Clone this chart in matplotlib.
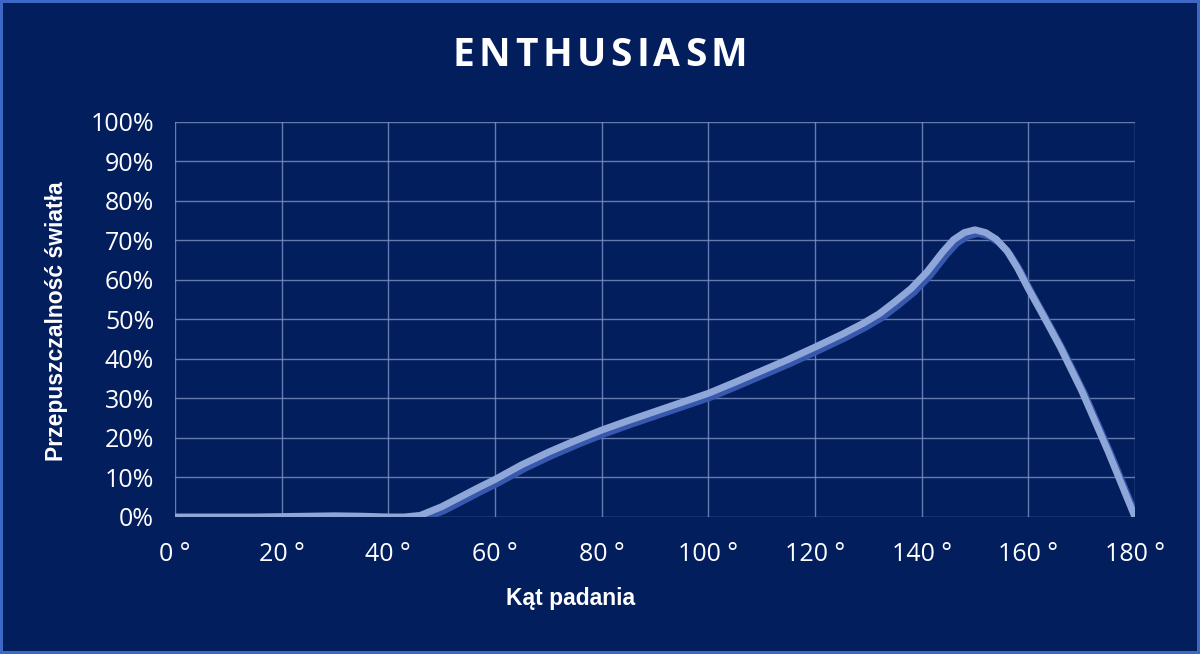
import matplotlib.pyplot as plt
import matplotlib.patheffects as pe
from matplotlib.ticker import PercentFormatter

# kat padania [deg] i przepuszczalnosc [0-1]
katy = [0, 5, 10, 15, 20, 25, 30, 35, 40, 43, 46, 50, 54, 57, 60, 65, 70, 75,
        80, 85, 90, 95, 100, 105, 110, 115, 120, 125, 129, 132, 135, 138,
        141, 144, 146, 148, 150, 152, 154, 156, 158, 160, 163, 166, 170, 175,
        180]
przep = [0.0, 0.0, 0.0, 0.0, 0.001, 0.002, 0.003, 0.002, 0.0, 0.0, 0.004,
         0.026, 0.054, 0.075, 0.095, 0.132, 0.164, 0.193, 0.22, 0.244, 0.267,
         0.29, 0.313, 0.341, 0.37, 0.399, 0.43, 0.462, 0.49, 0.514, 0.545,
         0.578, 0.62, 0.672, 0.702, 0.72, 0.727, 0.72, 0.703, 0.674, 0.63,
         0.578, 0.505, 0.43, 0.32, 0.165, 0.0]
x_ticki = list(range(0, 181, 20))
x_etykiety = [f'{k} °' for k in x_ticki]
y_ticki = [i / 10 for i in range(11)]
tytul = 'ENTHUSIASM'

tlo = '#021e5d'
fig = plt.figure(figsize=(12, 6.54), dpi=100, facecolor=tlo,
                 edgecolor='#3d68c6', linewidth=3)
ax = fig.add_axes([0.1458, 0.2095, 0.8, 0.604])
ax.set_facecolor(tlo)

ax.plot(katy, przep, color='#8ea7d8', lw=5, solid_capstyle='round',
        solid_joinstyle='round',
        path_effects=[pe.SimpleLineShadow(offset=(2.2, -2.6), shadow_color='#3758ac',
                                          alpha=1, rho=1),
                      pe.Normal()], zorder=3)

ax.set_xlim(0, 180)
ax.set_ylim(0, 1)
ax.set_xticks(x_ticki)
ax.set_xticklabels(x_etykiety)
ax.set_yticks(y_ticki)
ax.yaxis.set_major_formatter(PercentFormatter(1.0, decimals=0))
ax.grid(True, color='#7f93c6', lw=1, alpha=0.8)
for s in ax.spines.values():
    s.set_visible(False)
ax.tick_params(length=0, colors='white', labelsize=18, pad=18)
ax.tick_params(axis='y', pad=15)
for t in ax.get_xticklabels() + ax.get_yticklabels():
    t.set_family('Open Sans')

fig.text(571 / 1200, 1 - 598 / 654, 'Kąt padania', ha='center', va='center',
         family='Liberation Sans', fontweight='bold', fontsize=16.5,
         color='white')
fig.text(57 / 1200, 1 - 321 / 654, 'Przepuszczalność światła', ha='center',
         va='center', rotation=90, family='Liberation Sans',
         fontweight='bold', fontsize=16.5, color='white')

# tytul z rozstrzelonymi literami
fig.canvas.draw()
r = fig.canvas.get_renderer()
litery = []
for ch in tytul:
    t = fig.text(0, 1 - 55 / 654, ch, ha='left', va='center', color='white',
                 family='Open Sans', fontweight='bold', fontsize=28)
    litery.append((t, t.get_window_extent(r).width))
odstep = 4.5
szer = sum(w for _, w in litery) + odstep * (len(litery) - 1)
xp = 600 - szer / 2
for t, w in litery:
    t.set_x(xp / 1200)
    xp += w + odstep

fig.savefig('out.png', dpi=100, facecolor=tlo, edgecolor='#3d68c6')
